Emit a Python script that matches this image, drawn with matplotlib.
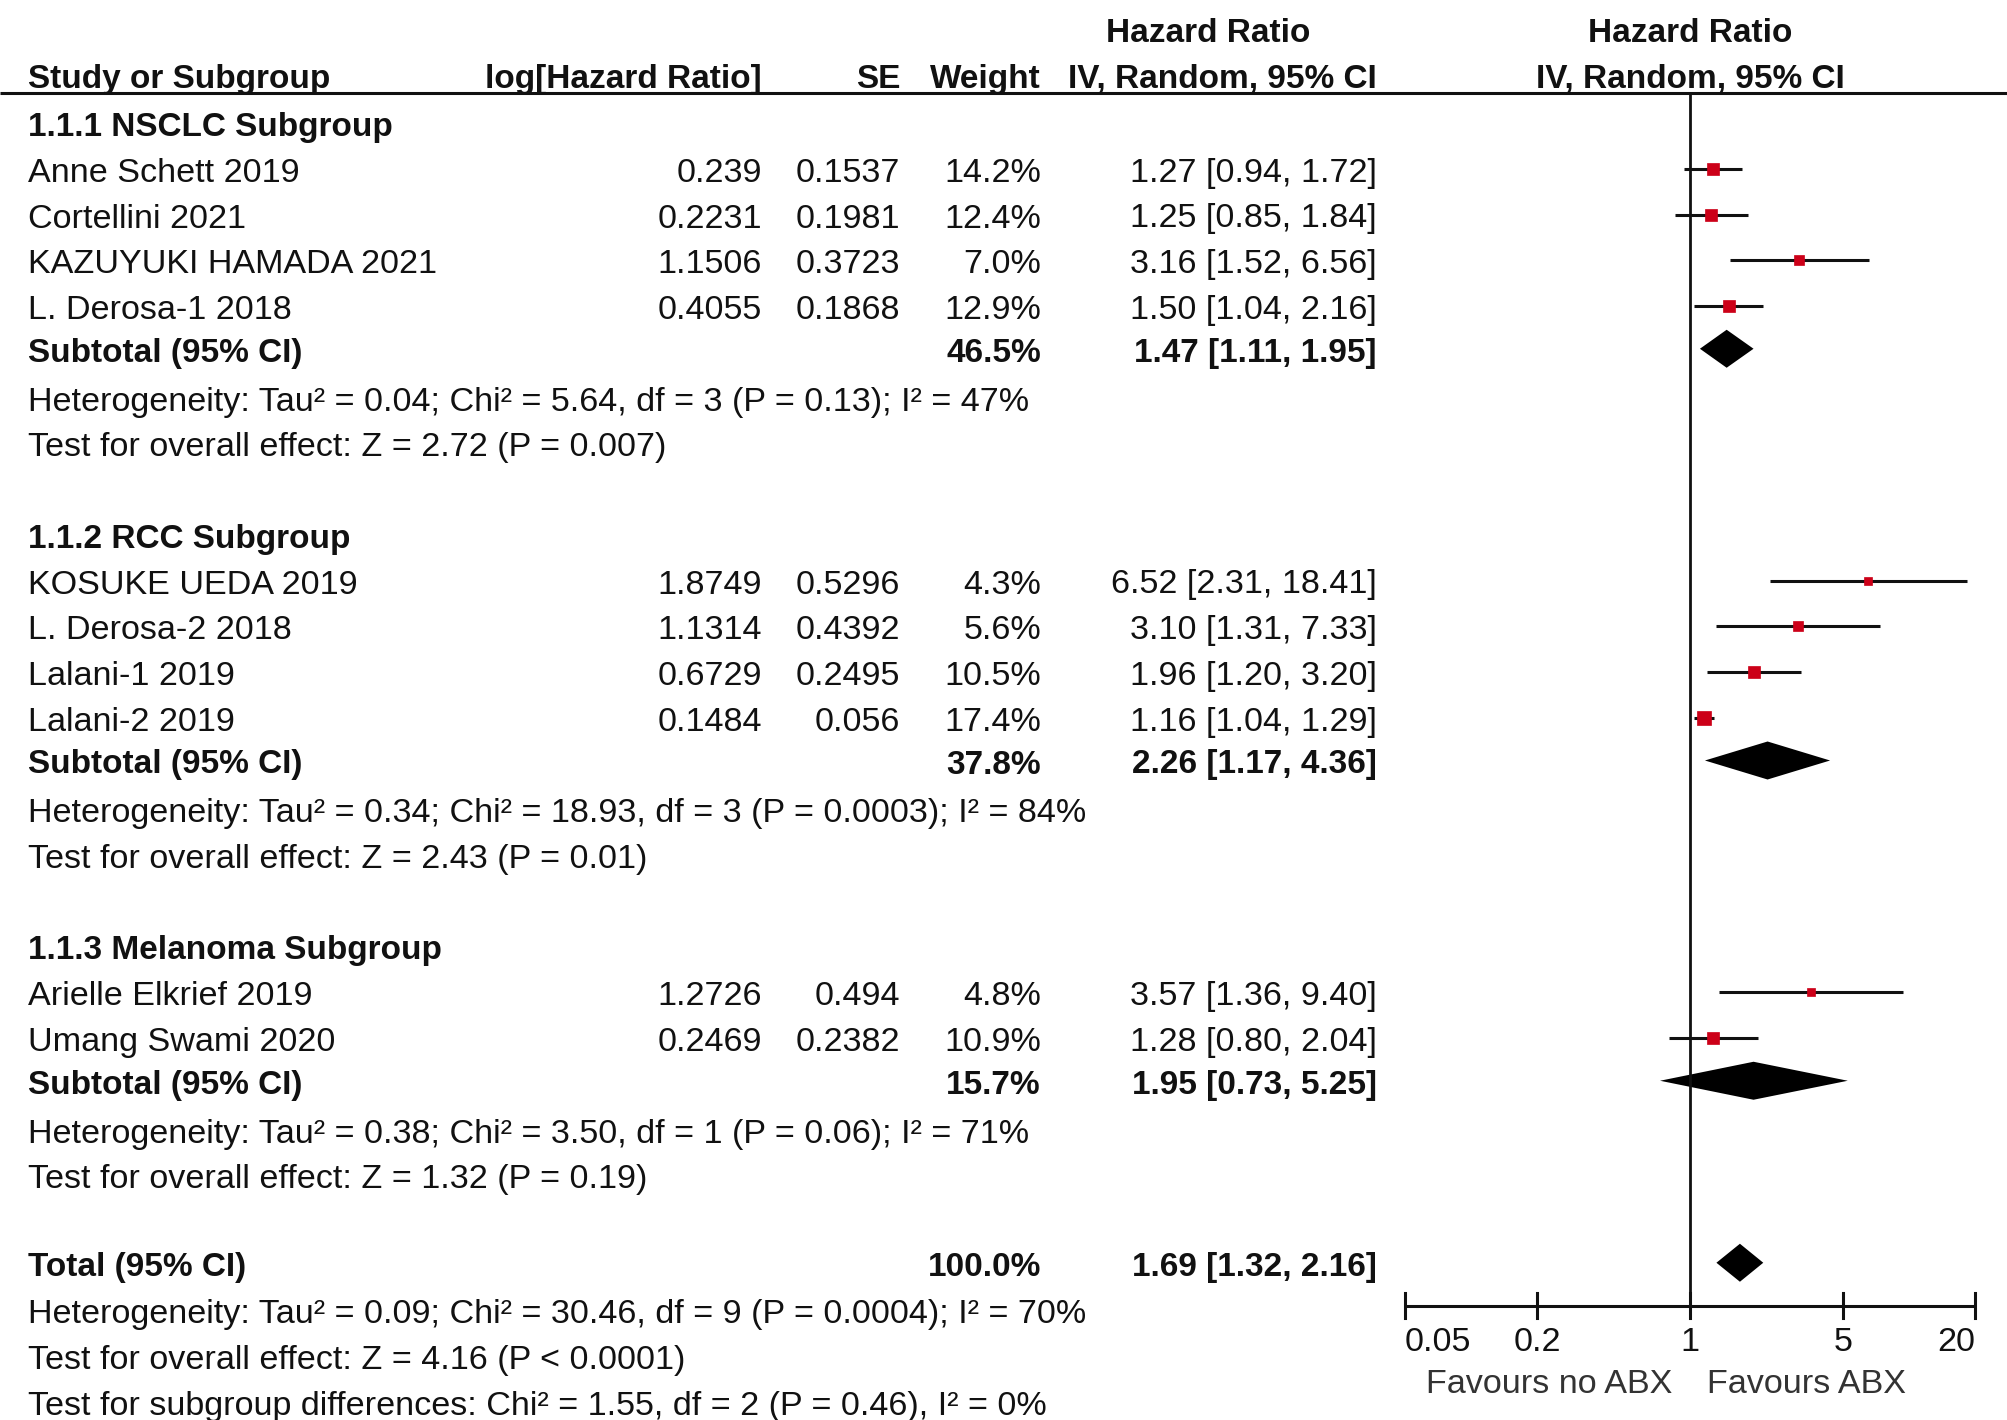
import numpy as np
import matplotlib.pyplot as plt

plt.rcParams['font.family'] = ['Liberation Sans', 'DejaVu Sans']

# study rows: name, log HR, SE, weight, HR, lower, upper
groups = ["1.1.1 NSCLC Subgroup", "1.1.2 RCC Subgroup", "1.1.3 Melanoma Subgroup"]

names = [
    ["Anne Schett 2019", "Cortellini 2021", "KAZUYUKI HAMADA 2021", "L. Derosa-1 2018"],
    ["KOSUKE UEDA 2019", "L. Derosa-2 2018", "Lalani-1 2019", "Lalani-2 2019"],
    ["Arielle Elkrief 2019", "Umang Swami 2020"],
]
log_hr = [["0.239", "0.2231", "1.1506", "0.4055"],
          ["1.8749", "1.1314", "0.6729", "0.1484"],
          ["1.2726", "0.2469"]]
se = [["0.1537", "0.1981", "0.3723", "0.1868"],
      ["0.5296", "0.4392", "0.2495", "0.056"],
      ["0.494", "0.2382"]]
weight = [[14.2, 12.4, 7.0, 12.9],
          [4.3, 5.6, 10.5, 17.4],
          [4.8, 10.9]]
hr = [[1.27, 1.25, 3.16, 1.50],
      [6.52, 3.10, 1.96, 1.16],
      [3.57, 1.28]]
lo = [[0.94, 0.85, 1.52, 1.04],
      [2.31, 1.31, 1.20, 1.04],
      [1.36, 0.80]]
hi = [[1.72, 1.84, 6.56, 2.16],
      [18.41, 7.33, 3.20, 1.29],
      [9.40, 2.04]]

sub_weight = [46.5, 37.8, 15.7]
sub_hr = [1.47, 2.26, 1.95]
sub_lo = [1.11, 1.17, 0.73]
sub_hi = [1.95, 4.36, 5.25]
sub_het = [
    "Heterogeneity: Tau² = 0.04; Chi² = 5.64, df = 3 (P = 0.13); I² = 47%",
    "Heterogeneity: Tau² = 0.34; Chi² = 18.93, df = 3 (P = 0.0003); I² = 84%",
    "Heterogeneity: Tau² = 0.38; Chi² = 3.50, df = 1 (P = 0.06); I² = 71%",
]
sub_test = [
    "Test for overall effect: Z = 2.72 (P = 0.007)",
    "Test for overall effect: Z = 2.43 (P = 0.01)",
    "Test for overall effect: Z = 1.32 (P = 0.19)",
]

total_hr, total_lo, total_hi = 1.69, 1.32, 2.16
total_lines = [
    "Heterogeneity: Tau² = 0.09; Chi² = 30.46, df = 9 (P = 0.0004); I² = 70%",
    "Test for overall effect: Z = 4.16 (P < 0.0001)",
    "Test for subgroup differences: Chi² = 1.55, df = 2 (P = 0.46), I² = 0%",
]

ticks = [0.05, 0.2, 1, 5, 20]
tick_labels = ["0.05", "0.2", "1", "5", "20"]
tick_ha = ['left', 'center', 'center', 'center', 'right']

W, H = 2008, 1420
fig = plt.figure(figsize=(W / 100, H / 100), dpi=100)
ax = fig.add_axes([0, 0, 1, 1])
ax.set_xlim(0, W)
ax.set_ylim(H, 0)
ax.axis('off')

# forest panel, log scale, 0.05 -> 1405px, 20 -> 1975px
fx0, fx1 = 1405, 1975
fa = fig.add_axes([fx0 / W, 0, (fx1 - fx0) / W, 1])
fa.set_xscale('log')
fa.set_xlim(0.05, 20)
fa.set_ylim(H, 0)
fa.axis('off')

col = '#111111'
fs = 24.6
fsb = 24
X_NAME, X_LOG, X_SE, X_W, X_HR = 28, 762, 900, 1041, 1377
BL = 13  # baseline offset from row centre

def txt(x, y, s, ha='left', bold=False):
    ax.text(x, y + BL, s, ha=ha, va='baseline', color=col,
            fontsize=fsb if bold else fs, fontweight='bold' if bold else 'normal')

# headers
txt(1208, 29, "Hazard Ratio", ha='center', bold=True)
txt(1690, 29, "Hazard Ratio", ha='center', bold=True)
txt(X_NAME, 75, "Study or Subgroup", bold=True)
txt(X_LOG, 75, "log[Hazard Ratio]", ha='right', bold=True)
txt(X_SE, 75, "SE", ha='right', bold=True)
txt(X_W, 75, "Weight", ha='right', bold=True)
txt(X_HR, 75, "IV, Random, 95% CI", ha='right', bold=True)
txt(1690, 75, "IV, Random, 95% CI", ha='center', bold=True)
ax.plot([0, W], [93, 93], color=col, lw=2.2, solid_capstyle='butt')

y0, step = 123, 45.75
row = 0
red = '#CC0018'
for g in range(len(groups)):
    txt(X_NAME, y0 + row * step, groups[g], bold=True)
    row += 1
    for i in range(len(names[g])):
        y = y0 + row * step
        txt(X_NAME, y, names[g][i])
        txt(X_LOG, y, log_hr[g][i], ha='right')
        txt(X_SE, y, se[g][i], ha='right')
        txt(X_W, y, f"{weight[g][i]:.1f}%", ha='right')
        txt(X_HR, y, f"{hr[g][i]:.2f} [{lo[g][i]:.2f}, {hi[g][i]:.2f}]", ha='right')
        fa.plot([lo[g][i], hi[g][i]], [y, y], color=col, lw=2.2, solid_capstyle='butt')
        side = (7 + 0.4 * weight[g][i]) * 0.72
        fa.plot(hr[g][i], y, marker='s', ms=side, color=red, mec=red, mew=0.5)
        row += 1
    y = y0 + row * step - 3
    txt(X_NAME, y, "Subtotal (95% CI)", bold=True)
    txt(X_W, y, f"{sub_weight[g]:.1f}%", ha='right', bold=True)
    txt(X_HR, y, f"{sub_hr[g]:.2f} [{sub_lo[g]:.2f}, {sub_hi[g]:.2f}]", ha='right', bold=True)
    fa.fill([sub_lo[g], sub_hr[g], sub_hi[g], sub_hr[g]], [y, y - 19, y, y + 19],
            color='black', lw=0)
    row += 1
    txt(X_NAME, y0 + row * step, sub_het[g])
    row += 1
    txt(X_NAME, y0 + row * step, sub_test[g])
    row += 2

y = y0 + row * step - 4
txt(X_NAME, y, "Total (95% CI)", bold=True)
txt(X_W, y, "100.0%", ha='right', bold=True)
txt(X_HR, y, f"{total_hr:.2f} [{total_lo:.2f}, {total_hi:.2f}]", ha='right', bold=True)
fa.fill([total_lo, total_hr, total_hi, total_hr], [y, y - 19, y, y + 19], color='black', lw=0)
row += 1
for s in total_lines:
    txt(X_NAME, y0 + row * step - 2, s)
    row += 1

# null line and axis
ax_y = 1306
fa.plot([1, 1], [93, ax_y], color=col, lw=2, clip_on=False)
fa.plot([0.05, 20], [ax_y, ax_y], color=col, lw=2.2, clip_on=False, solid_capstyle='butt')
for t, lab, ha in zip(ticks, tick_labels, tick_ha):
    fa.plot([t, t], [ax_y - 13, ax_y + 12], color=col, lw=2.2, clip_on=False)
    fa.text(t, 1338 + BL, lab, ha=ha, va='baseline', color=col, fontsize=fs, clip_on=False)
fa.text(0.83, 1380 + BL, "Favours no ABX", ha='right', va='baseline', color='#333333', fontsize=fs)
fa.text(1.2, 1380 + BL, "Favours ABX", ha='left', va='baseline', color='#333333', fontsize=fs)

fig.savefig("out.png", dpi=100, facecolor='white')
